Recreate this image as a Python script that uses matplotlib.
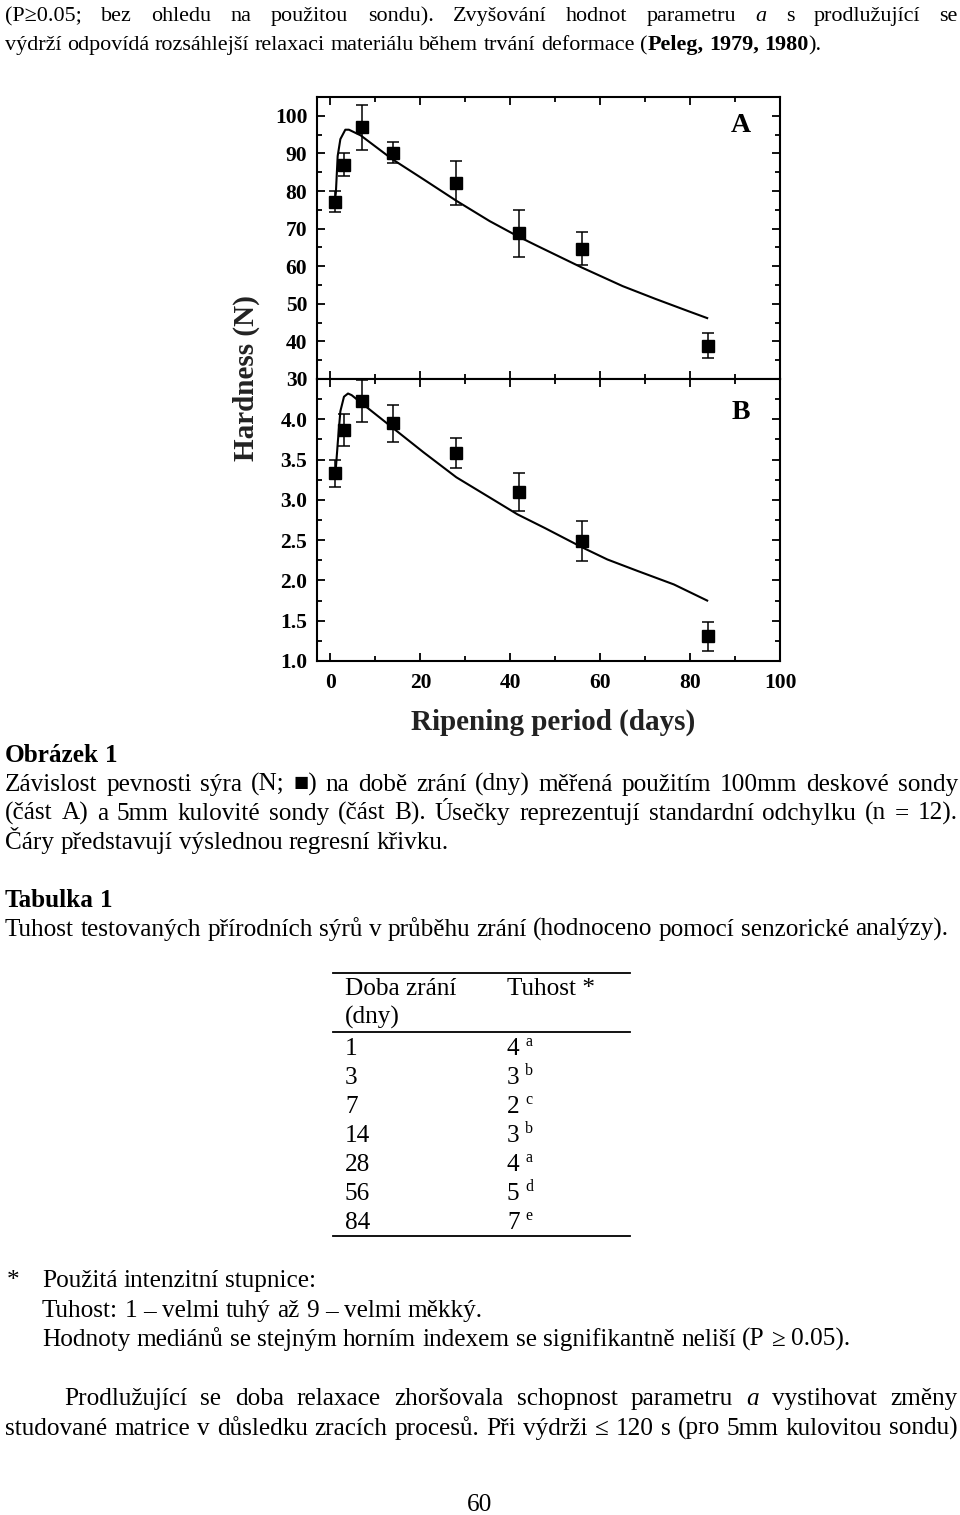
import matplotlib.pyplot as plt
from matplotlib.ticker import MultipleLocator

plt.rcParams['font.family'] = ['Liberation Serif', 'DejaVu Sans']

W, H = 960, 1515
FS = 18.2
FS_TOP = 15.9

# data
days = [1, 3, 7, 14, 28, 42, 56, 84]
hard_a = [77.1, 87.0, 96.9, 90.2, 82.2, 68.7, 64.7, 38.9]
err_a = [2.8, 3.0, 6.0, 2.7, 5.9, 6.3, 4.5, 3.3]
hard_b = [3.33, 3.87, 4.23, 3.95, 3.58, 3.10, 2.49, 1.31]
err_b = [0.17, 0.20, 0.26, 0.23, 0.19, 0.235, 0.245, 0.18]

fit_a_x = [1.0, 1.2, 1.6, 2.2, 3.3, 4.1, 6.7, 13.7, 20.7, 28, 35.4, 41.6, 46, 56, 65, 72.3, 79.7, 83.8]
fit_a_y = [77.5, 79.6, 89.3, 93.8, 96.3, 96.3, 94.8, 88.5, 83.1, 77.4, 72.0, 68.0, 65.4, 59.6, 54.7, 51.3, 48.0, 46.2]
fit_b_x = [1.0, 1.15, 1.65, 2.2, 3.0, 3.9, 4.7, 6.7, 13.7, 20.7, 28, 35.4, 41.6, 47.7, 56, 61.6, 68.2, 76.4, 83.8]
fit_b_y = [3.30, 3.36, 3.73, 4.10, 4.28, 4.32, 4.30, 4.21, 3.90, 3.59, 3.28, 3.03, 2.82, 2.65, 2.41, 2.26, 2.12, 1.95, 1.75]

tab_days = ['1', '3', '7', '14', '28', '56', '84']
tab_tuhost = ['4', '3', '2', '3', '4', '5', '7']
tab_sup = ['a', 'b', 'c', 'b', 'a', 'd', 'e']

fig = plt.figure(figsize=(W / 100, H / 100), dpi=100)


def box(x, y, w, h):
    return [x / W, 1 - (y + h) / H, w / W, h / H]


axA = fig.add_axes(box(317, 97, 463, 282))
axB = fig.add_axes(box(317, 379, 463, 282))

for ax, y, e, fx, fy in [(axA, hard_a, err_a, fit_a_x, fit_a_y),
                         (axB, hard_b, err_b, fit_b_x, fit_b_y)]:
    ax.plot(fx, fy, color='k', lw=1.5, zorder=2)
    ax.errorbar(days, y, yerr=e, fmt='s', color='k', ms=9, capsize=4,
                elinewidth=1.1, capthick=1.1, zorder=3)
    ax.set_xlim(-3, 100)
    ax.xaxis.set_major_locator(MultipleLocator(20))
    ax.xaxis.set_minor_locator(MultipleLocator(10))
    ax.tick_params(which='both', direction='in', top=True, right=True, width=1.3)
    ax.tick_params(which='major', length=6, pad=7)
    ax.tick_params(which='minor', length=3.5)
    for s in ax.spines.values():
        s.set_linewidth(1.5)

axA.set_ylim(30, 105)
axA.set_yticks(range(30, 101, 10), labels=[str(v) for v in range(30, 101, 10)],
               fontweight='bold', fontsize=15.5)
axA.yaxis.set_minor_locator(MultipleLocator(5))
axA.tick_params(labelbottom=False)
axA.text(0.915, 0.9, 'A', transform=axA.transAxes, fontsize=20, fontweight='bold',
         ha='center', va='center')

btick = [1.0, 1.5, 2.0, 2.5, 3.0, 3.5, 4.0]
axB.set_ylim(1.0, 4.5)
axB.set_yticks(btick, labels=['%.1f' % v for v in btick], fontweight='bold', fontsize=15.5)
axB.yaxis.set_minor_locator(MultipleLocator(0.25))
axB.set_xticks(range(0, 101, 20), labels=[str(v) for v in range(0, 101, 20)],
               fontweight='bold', fontsize=15.5)
axB.tick_params(axis='x', pad=9)
axB.text(0.915, 0.88, 'B', transform=axB.transAxes, fontsize=20, fontweight='bold',
         ha='center', va='center')

fig.text(246 / W, 1 - 378 / H, 'Hardness (N)', rotation=90, fontsize=21,
         fontweight='bold', ha='center', va='center', color='#222222')
fig.text(553 / W, 1 - 722 / H, 'Ripening period (days)', fontsize=21,
         fontweight='bold', ha='center', va='center', color='#222222')

# text of the page
rend = fig.canvas.get_renderer()


def words(s, **kw):
    return [[(w, kw)] for w in s.split()]


def place(line, y, x0, x1=None, size=FS):
    items = []
    for word in line:
        arts = []
        for txt, kw in word:
            t = fig.text(0, 1 - y / H, txt, fontsize=size, va='baseline', ha='left', **kw)
            arts.append((t, t.get_window_extent(rend).width))
        items.append(arts)
    total = sum(w for a in items for _, w in a)
    if x1 is None or len(items) < 2:
        gap = 0.25 * size * 100 / 72
    else:
        gap = (x1 - x0 - total) / (len(items) - 1)
    x = x0
    for arts in items:
        for t, w in arts:
            t.set_x(x / W)
            x += w
        x += gap


B = {'weight': 'bold'}
I = {'style': 'italic'}

place(words('(P≥0.05; bez ohledu na použitou sondu). Zvyšování hodnot parametru')
      + words('a', **I) + words('s prodlužující se'), 21, 5, 958, size=FS_TOP)
place(words('výdrží odpovídá rozsáhlejší relaxaci materiálu během trvání deformace')
      + [[('(', {}), ('Peleg,', B)]] + words('1979,', **B) + [[('1980', B), (').', {})]],
      50, 5, size=FS_TOP)

place(words('Obrázek 1', **B), 762, 5)
place(words('Závislost pevnosti sýra (N; ■) na době zrání (dny) měřená použitím 100mm deskové sondy'),
      791, 5, 958)
place(words('(část A) a 5mm kulovité sondy (část B). Úsečky reprezentují standardní odchylku (n = 12).'),
      820, 5, 958)
place(words('Čáry představují výslednou regresní křivku.'), 849, 5)

place(words('Tabulka 1', **B), 907, 5)
place(words('Tuhost testovaných přírodních sýrů v průběhu zrání (hodnoceno pomocí senzorické analýzy).'),
      936, 5)

# table
for yl in [972.5, 1031.5, 1236]:
    fig.add_artist(plt.Line2D([333 / W, 630 / W], [1 - yl / H] * 2, color='k', lw=1.3))
fig.text(345 / W, 1 - 995 / H, 'Doba zrání', fontsize=FS, va='baseline')
fig.text(345 / W, 1 - 1024 / H, '(dny)', fontsize=FS, va='baseline')
fig.text(507 / W, 1 - 995 / H, 'Tuhost *', fontsize=FS, va='baseline')
for i in range(len(tab_days)):
    yb = 1055 + 29 * i
    fig.text(345 / W, 1 - yb / H, tab_days[i], fontsize=FS, va='baseline')
    fig.text(507 / W, 1 - yb / H, tab_tuhost[i], fontsize=FS, va='baseline')
    fig.text(525 / W, 1 - (yb - 9) / H, tab_sup[i], fontsize=11.5, va='baseline')

fig.text(7 / W, 1 - 1287 / H, '*', fontsize=FS, va='baseline')
place(words('Použitá intenzitní stupnice:'), 1287, 42)
place(words('Tuhost: 1 – velmi tuhý až 9 – velmi měkký.'), 1317, 42)
place(words('Hodnoty mediánů se stejným horním indexem se signifikantně neliší (P ≥ 0.05).'), 1346, 42)

place(words('Prodlužující se doba relaxace zhoršovala schopnost parametru') + words('a', **I)
      + words('vystihovat změny'), 1405, 64, 958)
place(words('studované matrice v důsledku zracích procesů. Při výdrži ≤ 120 s (pro 5mm kulovitou sondu)'),
      1435, 5, 958)

fig.text(480 / W, 1 - 1511 / H, '60', fontsize=FS, va='baseline', ha='center')

fig.savefig('out.png', dpi=100)
